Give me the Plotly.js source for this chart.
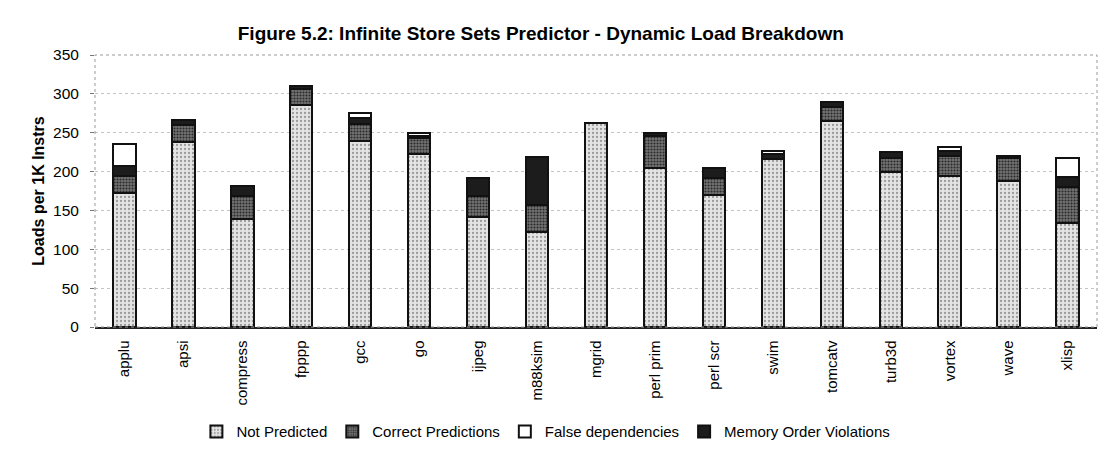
<!DOCTYPE html>
<html>
<head>
<meta charset="utf-8">
<script src="https://cdn.plot.ly/plotly-3.0.1.min.js"></script>
<style>html,body{margin:0;padding:0;background:#fff;}#chart{width:1115px;height:460px;}</style>
</head>
<body>
<div id="chart"></div>
<script>
const categories = ["applu","apsi","compress","fpppp","gcc","go","ijpeg","m88ksim","mgrid","perl prim","perl scr","swim","tomcatv","turb3d","vortex","wave","xlisp"];
const notPredicted = [172, 238, 139, 286, 239, 223, 141, 122, 262, 204, 170, 216, 265, 200, 194, 188, 134];
const correctPredictions = [22, 22, 30, 20, 22, 20, 28, 35, 0, 42, 22, 0, 18, 17, 26, 30, 46];
const memoryOrderViolations = [13, 7, 12, 4, 8, 3, 23, 62, 0, 3, 13, 6, 6, 8, 7, 2, 13];
const falseDependencies = [29, 0, 0, 0, 6, 4, 0, 0, 0, 0, 0, 5, 0, 0, 5, 0, 24];

const FONT = "Liberation Sans, Arial, sans-serif";
const outline = {color: "#111", width: 2};

const traces = [
  {name: "Not Predicted", y: notPredicted, legendrank: 1,
   marker: {color: "#dedede", line: outline, pattern: {shape: ".", fgcolor: "#9a9a9a", bgcolor: "#e4e4e4", size: 4, solidity: 0.25}}},
  {name: "Correct Predictions", y: correctPredictions, legendrank: 2,
   marker: {color: "#5a5a5a", line: outline, pattern: {shape: ".", fgcolor: "#2a2a2a", bgcolor: "#737373", size: 3, solidity: 0.4}}},
  {name: "Memory Order Violations", y: memoryOrderViolations, legendrank: 4,
   marker: {color: "#1c1c1c", line: outline}},
  {name: "False dependencies", y: falseDependencies, legendrank: 3,
   marker: {color: "#ffffff", line: outline}}
].map(t => Object.assign({type: "bar", x: categories, width: 0.38}, t));

const layout = {
  width: 1115, height: 460,
  margin: {l: 95, r: 18, t: 55, b: 127},
  paper_bgcolor: "#fff", plot_bgcolor: "#fff",
  barmode: "stack",
  font: {family: FONT, color: "#000", size: 15},
  title: {text: "<b>Figure 5.2: Infinite Store Sets Predictor - Dynamic Load Breakdown</b>",
          font: {family: FONT, size: 19, color: "#000"}, x: 0.485, xanchor: "center", y: 0.928, yanchor: "middle"},
  xaxis: {tickangle: -90, tickfont: {family: FONT, size: 15}, showline: true, linecolor: "#222", linewidth: 1.5,
          ticks: "", showgrid: false, automargin: false, ticklabelstandoff: 6},
  yaxis: {range: [0, 350], dtick: 50, tickfont: {family: FONT, size: 15.5}, showgrid: true, gridcolor: "#c4c4c4",
          griddash: "dot", gridwidth: 1, ticks: "outside", ticklen: 4, tickcolor: "#777", zeroline: false,
          ticklabelstandoff: 8,
          title: {text: "<b>Loads per 1K Instrs</b>", font: {family: FONT, size: 16}, standoff: 4}, automargin: false},
  showlegend: true,
  legend: {orientation: "h", x: 0.45, xanchor: "center", y: -0.385, yanchor: "middle",
           font: {family: FONT, size: 15}, traceorder: "normal", itemwidth: 30, tracegroupgap: 0},
  shapes: [{type: "rect", xref: "paper", yref: "paper", x0: 0, x1: 1, y0: 0, y1: 1,
            line: {color: "#999", width: 1, dash: "dot"}, fillcolor: "rgba(0,0,0,0)"}]
};

Plotly.newPlot("chart", traces, layout, {displayModeBar: false, staticPlot: true});
</script>
</body>
</html>
